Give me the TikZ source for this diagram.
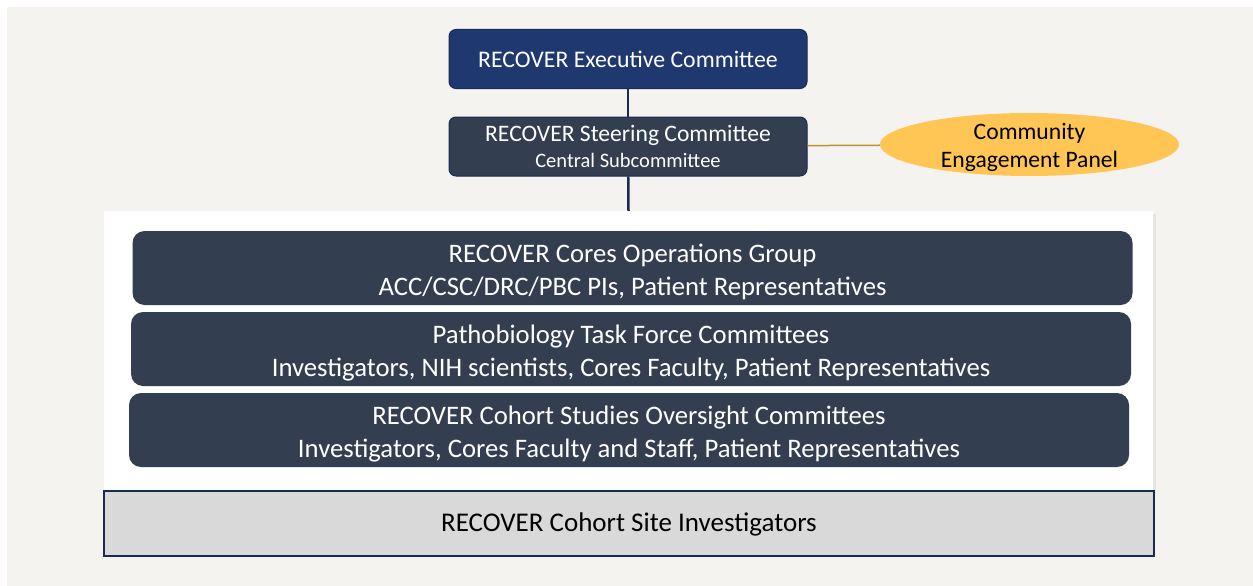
\documentclass[tikz,border=0pt]{standalone}
\usepackage{fontspec}
\setmainfont{Carlito}
\usetikzlibrary{shapes.geometric,shadows}
\definecolor{execblue}{HTML}{1F3870}
\definecolor{slate}{HTML}{333F50}
\definecolor{paper}{HTML}{F4F3EF}
\definecolor{panelgold}{HTML}{FFC655}
\definecolor{goldline}{HTML}{BF9231}
\definecolor{sitegray}{HTML}{D9D9D9}
\definecolor{navy}{HTML}{1A2B50}
\newcommand{\rowstrut}{\rule{0pt}{27pt}}
\newcommand{\cepstrut}{\rule{0pt}{21.5pt}}

\tikzset{
  topbox/.style={draw=navy, line width=1pt, rounded corners=7pt, minimum width=358pt,
    minimum height=59pt, inner sep=0pt, text=white, align=center},
  rowbox/.style={fill=slate, rounded corners=12pt, minimum width=1000pt,
    minimum height=74pt, inner sep=0pt, text=white, align=center,
    font=\fontsize{26.7}{33}\selectfont},
  link/.style={navy, line width=2.5pt},
}

\begin{document}
\begin{tikzpicture}[x=1pt, y=-1pt]
    \useasboundingbox (0,0) rectangle (1253,586);
    \fill[white] (0,0) rectangle (1253,586);
    \fill[paper] (7,7) rectangle (1253,586);

    % white panel holding the three groups
    \node[fill=white, minimum width=1049pt, minimum height=279pt, inner sep=0pt,
      drop shadow={opacity=0.12, shadow xshift=3pt, shadow yshift=-3pt}] (panel) at (628.5,350.5) {};

    \node[topbox, fill=execblue, font=\fontsize{23.8}{28}\selectfont] (exec) at (628,59) {RECOVER Executive Committee};
    \node[topbox, fill=slate, font=\fontsize{23.6}{27}\selectfont] (steer) at (628,146.5)
      {RECOVER Steering Committee\\[-1pt]{\fontsize{20.5}{22}\selectfont Central Subcommittee}};
    \node[ellipse, fill=panelgold, minimum width=299pt, minimum height=63pt, inner xsep=0pt, inner ysep=-7pt,
      align=center, font=\fontsize{23.6}{28}\selectfont] (cep) at (1029.5,144.5) {\cepstrut Community\\Engagement Panel};

    \node[rowbox] (cores) at (632.5,268) {\rowstrut RECOVER Cores Operations Group\\ACC/CSC/DRC/PBC PIs, Patient Representatives};
    \node[rowbox] (patho) at (631,349) {\rowstrut Pathobiology Task Force Committees\\Investigators, NIH scientists, Cores Faculty, Patient Representatives};
    \node[rowbox] (cohort) at (629,430) {\rowstrut RECOVER Cohort Studies Oversight Committees\\Investigators, Cores Faculty and Staff, Patient Representatives};

    \node[draw=navy, line width=1.5pt, fill=sitegray, minimum width=1050pt, minimum height=65pt,
      inner sep=0pt, text height=22pt, text depth=5.5pt,
      font=\fontsize{27}{30}\selectfont] (sites) at (629,523.5) {RECOVER Cohort Site Investigators};

    \draw[link] (exec) -- (steer);
    \draw[link] (steer) -- (panel.north);
    \draw[goldline, line width=1.5pt] (steer) -- (cep);
\end{tikzpicture}
\end{document}
